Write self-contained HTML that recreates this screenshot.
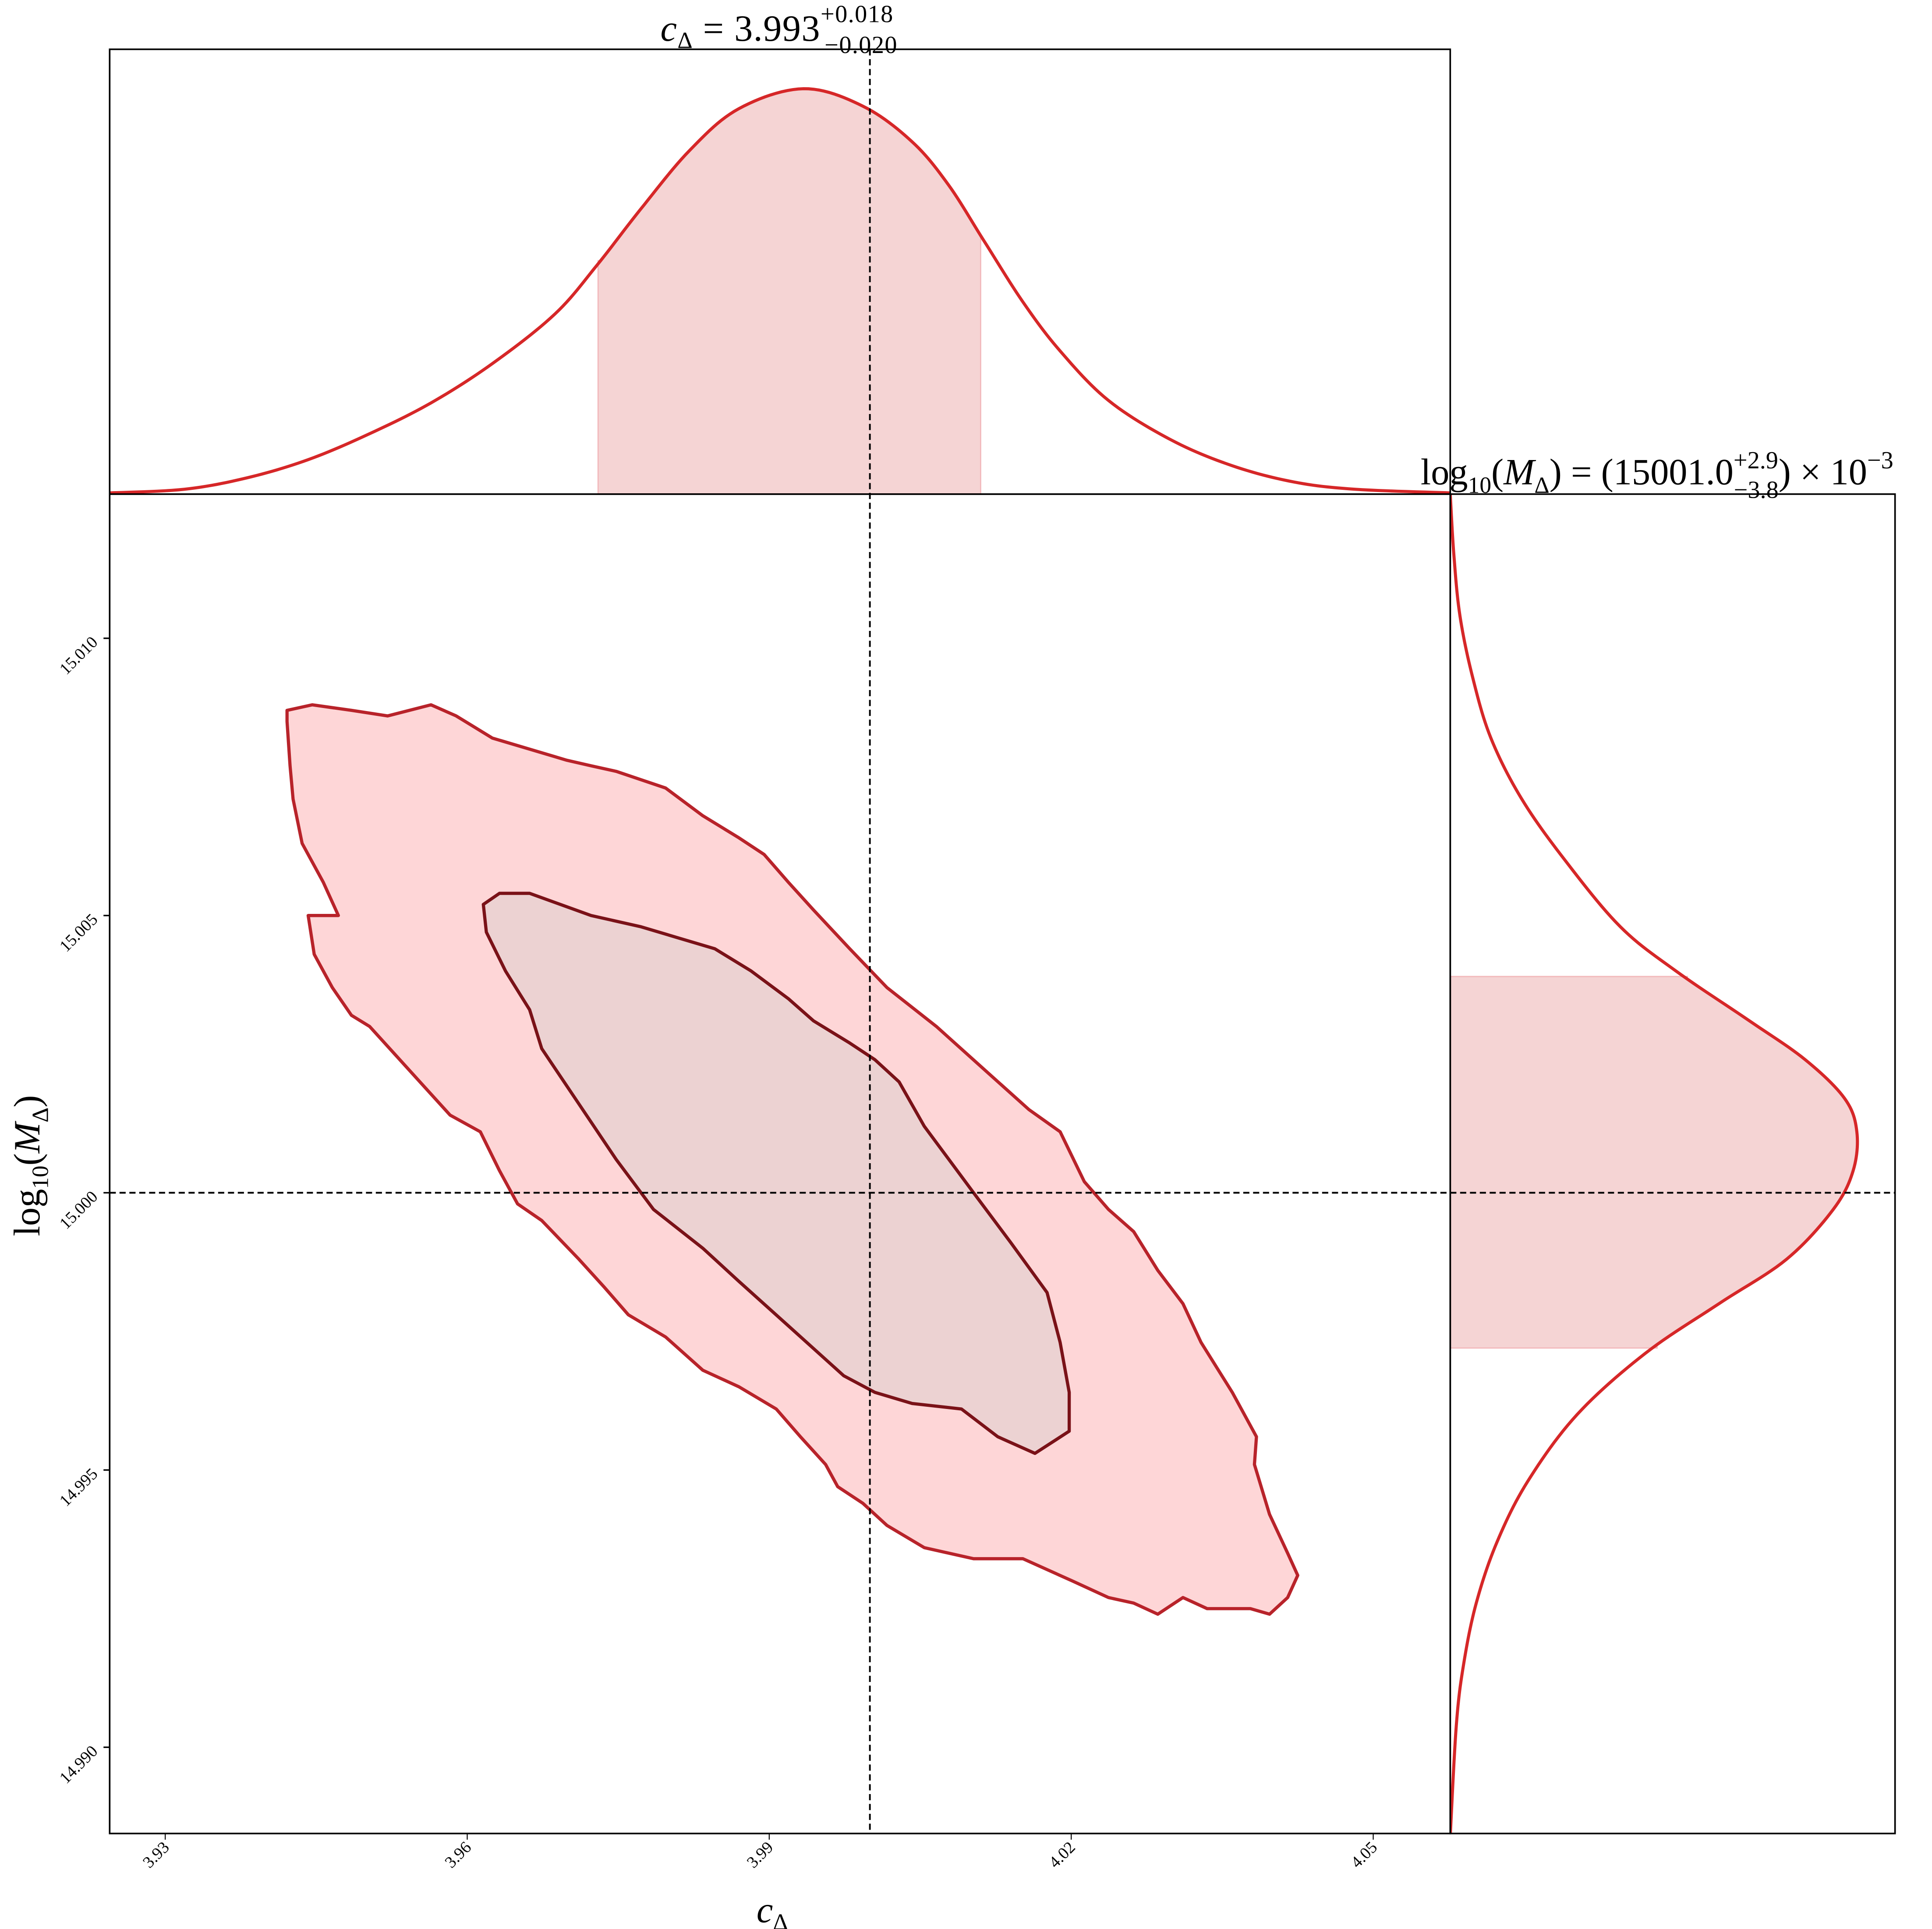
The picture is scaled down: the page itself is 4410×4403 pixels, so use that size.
<!DOCTYPE html>
<html><head><meta charset="utf-8"><style>
html,body{margin:0;padding:0;background:#fff;}
svg{display:block;}
text{font-family:"Liberation Serif","DejaVu Serif",serif;fill:#000;}
</style></head><body>
<svg id="chart" width="4410" height="4403" viewBox="0 0 1568 1565.5" preserveAspectRatio="none" xmlns="http://www.w3.org/2000/svg">
<rect width="1568" height="1566" fill="#fff"/>
<g id="layer"></g>
</svg>
<script>
// ---- data ----
const xTicks = [3.93, 3.96, 3.99, 4.02, 4.05];
const xTickLabels = ["3.93", "3.96", "3.99", "4.02", "4.05"];
const yTicks = [15.010, 15.005, 15.000, 14.995, 14.990];
const yTickLabels = ["15.010", "15.005", "15.000", "14.995", "14.990"];
const truthC = 4.0;
const truthM = 15.0;
const outerC = [3.9421,3.9446,3.9485,3.9521,3.9564,3.9589,3.9625,3.9662,3.9699,3.9723,3.9748,3.9797,3.9834,3.9870,3.9895,3.9919,3.9944,3.9980,4.0017,4.0066,4.0115,4.0158,4.0189,4.0213,4.0237,4.0262,4.0286,4.0311,4.0329,4.0360,4.0384,4.0382,4.0397,4.0415,4.0425,4.0415,4.0397,4.0378,4.0335,4.0311,4.0286,4.0262,4.0237,4.0201,4.0152,4.0103,4.0054,4.0017,3.9993,3.9968,3.9956,3.9931,3.9907,3.9870,3.9834,3.9797,3.9760,3.9736,3.9711,3.9674,3.9650,3.9632,3.9613,3.9583,3.9558,3.9528,3.9503,3.9485,3.9466,3.9448,3.9442,3.9472,3.9457,3.9436,3.9427,3.9424,3.9421];
const outerM = [15.0087,15.0088,15.0087,15.0086,15.0088,15.0086,15.0082,15.0080,15.0078,15.0077,15.0076,15.0073,15.0068,15.0064,15.0061,15.0056,15.0051,15.0044,15.0037,15.0030,15.0022,15.0015,15.0011,15.0002,14.9997,14.9993,14.9986,14.9980,14.9973,14.9964,14.9956,14.9951,14.9942,14.9935,14.9931,14.9927,14.9924,14.9925,14.9925,14.9927,14.9924,14.9926,14.9927,14.9930,14.9934,14.9934,14.9936,14.9940,14.9944,14.9947,14.9951,14.9956,14.9961,14.9965,14.9968,14.9974,14.9978,14.9983,14.9988,14.9995,14.9998,15.0004,15.0011,15.0014,15.0019,15.0025,15.0030,15.0032,15.0037,15.0043,15.0050,15.0050,15.0056,15.0063,15.0071,15.0077,15.0085];
const innerC = [3.9616,3.9632,3.9662,3.9723,3.9772,3.9809,3.9846,3.9882,3.9919,3.9944,3.9980,4.0005,4.0029,4.0054,4.0103,4.0140,4.0176,4.0189,4.0198,4.0198,4.0164,4.0127,4.0091,4.0042,4.0005,3.9974,3.9919,3.9870,3.9834,3.9785,3.9748,3.9711,3.9674,3.9662,3.9638,3.9619];
const innerM = [15.0052,15.0054,15.0054,15.0050,15.0048,15.0046,15.0044,15.0040,15.0035,15.0031,15.0027,15.0024,15.0020,15.0012,15.0000,14.9991,14.9982,14.9973,14.9964,14.9957,14.9953,14.9956,14.9961,14.9962,14.9964,14.9967,14.9976,14.9984,14.9990,14.9997,15.0006,15.0016,15.0026,15.0033,15.0040,15.0047];
const margC = [3.9245,3.9319,3.9381,3.9442,3.9503,3.9564,3.9625,3.9687,3.9729,3.9772,3.9821,3.9870,3.9934,3.9993,4.0042,4.0078,4.0113,4.0152,4.0189,4.0237,4.0299,4.0360,4.0421,4.0482,4.0577];
const margCDens = [0.003,0.012,0.040,0.085,0.149,0.225,0.322,0.444,0.565,0.702,0.848,0.951,1.0,0.957,0.869,0.763,0.626,0.474,0.353,0.231,0.134,0.070,0.030,0.012,0.003];
const margM = [15.0126,15.0115,15.0104,15.0093,15.0082,15.0071,15.0060,15.0048,15.0040,15.0031,15.0024,15.0017,15.0011,15.0004,14.9997,14.9988,14.9980,14.9971,14.9960,14.9948,14.9937,14.9926,14.9915,14.9904,14.9884];
const margMDens = [0,0.009,0.024,0.055,0.100,0.176,0.282,0.418,0.555,0.736,0.873,0.970,1.0,0.991,0.942,0.827,0.661,0.479,0.312,0.191,0.115,0.064,0.033,0.015,0];
const cBand = [3.973, 4.011];
const mBand = [14.9972, 15.0039];

// ---- layout ----
const L=89, R=1177, RR=1538, TT=40, T=401, B=1488;
const xS = c => 706 + (c-4)*8170;
const yS = m => 968 - (m-15)*45000;
const dTop = d => T - d*329;
const dRight = d => R + d*330;
const NS='http://www.w3.org/2000/svg';
const layer=document.getElementById('layer');
function mk(tag, attrs){const e=document.createElementNS(NS,tag);for(const k in attrs)e.setAttribute(k,attrs[k]);layer.appendChild(e);return e;}
function splinePts(pts,n){
  const out=[];
  for(let i=0;i<pts.length-1;i++){
    const p0=pts[Math.max(0,i-1)],p1=pts[i],p2=pts[i+1],p3=pts[Math.min(pts.length-1,i+2)];
    for(let k=0;k<n;k++){const t=k/n,t2=t*t,t3=t2*t;
      const f=(a,b,c,d)=>0.5*((2*b)+(-a+c)*t+(2*a-5*b+4*c-d)*t2+(-a+3*b-3*c+d)*t3);
      out.push([f(p0[0],p1[0],p2[0],p3[0]),f(p0[1],p1[1],p2[1],p3[1])]);}
  }
  out.push(pts[pts.length-1]);return out;
}
function pathOf(pts){return 'M'+pts.map(p=>p[0].toFixed(2)+','+p[1].toFixed(2)).join(' L');}

const defs=document.createElementNS(NS,'defs');layer.appendChild(defs);
function clip(id,x,y,w,h){const cp=document.createElementNS(NS,'clipPath');cp.setAttribute('id',id);const r=document.createElementNS(NS,'rect');r.setAttribute('x',x);r.setAttribute('y',y);r.setAttribute('width',w);r.setAttribute('height',h);cp.appendChild(r);defs.appendChild(cp);}
clip('cTop',L,TT,R-L,T-TT);clip('cRight',R,T,RR-R,B-T);clip('cMain',L,T,R-L,B-T);

// ---- top marginal ----
const topCurve = splinePts(margC.map((c,i)=>[xS(c), dTop(margCDens[i])]),12);
{const xa=xS(cBand[0]),xb=xS(cBand[1]);
 const inside=topCurve.filter(p=>p[0]>=xa&&p[0]<=xb);
 const pts=[[xa,T],[xa,inside[0][1]],...inside,[xb,inside[inside.length-1][1]],[xb,T]];
 const e=mk('path',{d:pathOf(pts)+' Z',fill:'#f5d4d4',stroke:'#f2b8bb','stroke-width':1,'clip-path':'url(#cTop)'});
 
 }
{const e=mk('path',{d:pathOf(topCurve),fill:'none',stroke:'#d62728','stroke-width':2.5,'clip-path':'url(#cTop)'});
 
 }

// ---- right marginal ----
const rightCurve = splinePts(margM.map((m,i)=>[dRight(margMDens[i]), yS(m)]),12);
{const ya=yS(mBand[1]),yb=yS(mBand[0]);
 const inside=rightCurve.filter(p=>p[1]>=ya&&p[1]<=yb);
 const pts=[[R,ya],[inside[0][0],ya],...inside,[inside[inside.length-1][0],yb],[R,yb]];
 const e=mk('path',{d:pathOf(pts)+' Z',fill:'#f5d4d4',stroke:'#f2b8bb','stroke-width':1,'clip-path':'url(#cRight)'});
 
 }
{const e=mk('path',{d:pathOf(rightCurve),fill:'none',stroke:'#d62728','stroke-width':2.5,'clip-path':'url(#cRight)'});
 
 }

// ---- contours ----
function poly(cs,ms){return cs.map((c,i)=>xS(c)+','+yS(ms[i])).join(' ');}
{const e=mk('polygon',{points:poly(outerC,outerM),fill:'#fed6d7',stroke:'#b8232a','stroke-width':2.6,'stroke-linejoin':'round','clip-path':'url(#cMain)'});
 
 }
{const e=mk('polygon',{points:poly(innerC,innerM),fill:'#ecd2d2',stroke:'#7a1218','stroke-width':2.6,'stroke-linejoin':'round','clip-path':'url(#cMain)'});
 
 }

// ---- truth lines ----
{const e=mk('line',{x1:xS(truthC),x2:xS(truthC),y1:TT,y2:B,stroke:'#000','stroke-width':1.4,'stroke-dasharray':'5,3'});
 
 }
{const e=mk('line',{x1:L,x2:RR,y1:yS(truthM),y2:yS(truthM),stroke:'#000','stroke-width':1.4,'stroke-dasharray':'5,3'});
 
 }

// ---- frames ----
{const e=mk('rect',{x:L,y:TT,width:R-L,height:T-TT,fill:'none',stroke:'#000','stroke-width':1.3});
 
 }
{const e=mk('rect',{x:L,y:T,width:R-L,height:B-T,fill:'none',stroke:'#000','stroke-width':1.3});
 
 }
{const e=mk('rect',{x:R,y:T,width:RR-R,height:B-T,fill:'none',stroke:'#000','stroke-width':1.3});
 
 }

// ---- ticks ----
xTicks.forEach((c,i)=>{
  const x=xS(c);
  const t=mk('line',{x1:x,x2:x,y1:B,y2:B+5,stroke:'#000','stroke-width':0.8});
  
  
  const tx=mk('text',{x:x+4,y:B+12,'font-size':13.5,'text-anchor':'end',transform:'rotate(-45 '+(x+4)+' '+(B+12)+')'});
  tx.textContent=xTickLabels[i];
  
  
});
yTicks.forEach((m,i)=>{
  const y=yS(m);
  const t=mk('line',{x1:L-5,x2:L,y1:y,y2:y,stroke:'#000','stroke-width':1.2});
  
  
  const tx=mk('text',{x:L-9,y:y+4,'font-size':13.5,'text-anchor':'end',transform:'rotate(-45 '+(L-9)+' '+(y+4)+')'});
  tx.textContent=yTickLabels[i];
  
  
});
</script>
<svg style="position:absolute;left:0;top:0" width="4410" height="4403" viewBox="0 0 1568 1565.5" preserveAspectRatio="none" xmlns="http://www.w3.org/2000/svg">
<text x="536" y="33" font-size="30" textLength="192"><tspan font-style="italic">c</tspan><tspan font-size="19" dy="6">Δ</tspan><tspan dy="-6"> = 3.993</tspan><tspan font-size="20" dy="-15">+0.018</tspan><tspan font-size="20" dx="-56" dy="25">−0.020</tspan></text>
<text x="1153" y="393" font-size="30">log<tspan font-size="19" dy="7">10</tspan><tspan dy="-7">(</tspan><tspan font-style="italic">M</tspan><tspan font-size="19" dy="7">Δ</tspan><tspan dy="-7">) = (15001.0</tspan><tspan font-size="20" dy="-13">+2.9</tspan><tspan font-size="20" dx="-36" dy="24">−3.8</tspan><tspan dy="-11">) × 10</tspan><tspan font-size="20" dy="-13">−3</tspan></text>
<text x="614" y="1560" font-size="30"><tspan font-style="italic">c</tspan><tspan font-size="19" dy="6">Δ</tspan></text>
<text x="0" y="0" font-size="30" text-anchor="middle" transform="translate(32 946) rotate(-90)">log<tspan font-size="19" dy="7">10</tspan><tspan dy="-7">(</tspan><tspan font-style="italic">M</tspan><tspan font-size="19" dy="7">Δ</tspan><tspan dy="-7">)</tspan></text>
</svg>
</body></html>
